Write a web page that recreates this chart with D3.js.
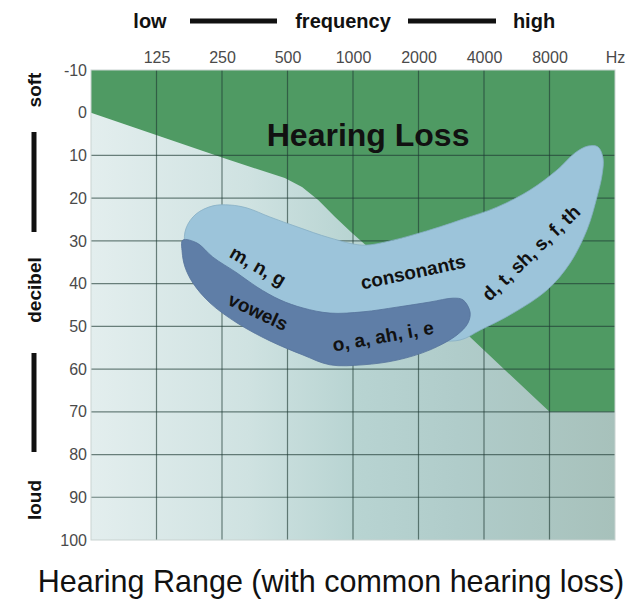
<!DOCTYPE html>
<html>
<head>
<meta charset="utf-8">
<script src="https://cdn.jsdelivr.net/npm/d3@7"></script>
<style>
  html, body { margin: 0; padding: 0; background: #fff; }
  svg { display: block; font-family: "Liberation Sans", Arial, Helvetica, sans-serif; }
</style>
</head>
<body>
<svg id="chart" width="631" height="603"></svg>
<script>
// ---------- data ----------
const freqTicks = [125, 250, 500, 1000, 2000, 4000, 8000, 16000];
const freqLabels = ["125", "250", "500", "1000", "2000", "4000", "8000", "Hz"];
const dbTicks = [-10, 0, 10, 20, 30, 40, 50, 60, 70, 80, 90, 100];
const dbGrid = [10, 20, 30, 40, 50, 60, 70, 80, 90];

// threshold of common hearing loss (Hz, dB)
const lossFreq = [62.5, 250, 486, 583, 692, 827, 987, 1170, 3450, 8000, 16000];
const lossDb   = [0, 10.5, 15.3, 17.4, 20.4, 24.4, 28.1, 31.4, 52.5, 70, 70];

// consonant speech region outline (Hz, dB)
const consFreq = [198, 169, 171, 190, 227, 272, 326, 415, 553, 784, 1112, 1479, 1887, 2512, 3202, 4588, 6508, 8666, 10478, 12025, 13363, 14096, 13950, 13225, 11898, 9937, 7792, 5439, 3834, 3104, 2032, 784, 336];
const consDb   = [38.0, 31.0, 27.0, 23.7, 21.8, 21.6, 22.3, 24.4, 26.7, 29.3, 31.0, 30.0, 28.6, 26.7, 24.9, 22.1, 18.1, 13.4, 9.4, 7.8, 8.0, 10.6, 14.6, 19.7, 27.4, 35.2, 41.5, 46.9, 50.9, 53.2, 53.2, 53.2, 46.2];

// vowel speech region outline (Hz, dB)
const vowFreq = [165, 192, 227, 293, 362, 462, 589, 784, 1112, 1593, 2260, 2882, 3202, 3450, 3377, 3006, 2260, 1593, 1112, 784, 589, 415, 293, 220, 184, 169, 164];
const vowDb   = [29.8, 30.5, 33.8, 37.5, 40.8, 43.8, 45.7, 46.9, 46.6, 45.5, 44.3, 43.4, 43.8, 46.6, 49.2, 52.0, 55.5, 57.9, 59.0, 59.0, 56.7, 53.4, 49.2, 44.5, 39.9, 36.1, 32.6];

// labels inside the chart
const labelText  = ["Hearing Loss", "m, n, g", "vowels", "consonants", "o, a, ah, i, e", "d, t, sh, s, f, th"];
const labelFreq  = [1173, 366, 366, 1887, 1374, 6580];
const labelDb    = [5.2, 35.9, 46.6, 37.3, 52.3, 32.8];
const labelAngle = [0, 30, 25, -12, -10, -44];

// ---------- layout ----------
const svg = d3.select("#chart");
const L = 91, R = 615, T = 70, B = 540;
const x = d3.scaleLog().base(2).domain([62.5, 16000]).range([L, R]);
const y = d3.scaleLinear().domain([-10, 100]).range([T, B]);

const defs = svg.append("defs");
const grad = defs.append("linearGradient").attr("id", "normal")
  .attr("x1", "0%").attr("x2", "100%").attr("y1", "0%").attr("y2", "0%");
[[0, "#e3eeee"], [0.3, "#cfe2e1"], [0.5, "#b8d4d2"], [0.7, "#b0ccca"], [1, "#a7c1bb"]]
  .forEach(([o, c]) => grad.append("stop").attr("offset", o).attr("stop-color", c));

// hearing loss area (green)
svg.append("rect").attr("x", L).attr("y", T).attr("width", R - L).attr("height", B - T)
  .attr("fill", "#4f9a63");

// normal hearing area
const lossPts = lossFreq.map((f, i) => [f, lossDb[i]]);
svg.append("path")
  .attr("d", d3.area().x(d => x(d[0])).y0(y(100)).y1(d => y(d[1]))(lossPts))
  .attr("fill", "url(#normal)");

// grid
const grid = svg.append("g").attr("stroke", "#1f3a33").attr("stroke-opacity", 0.62).attr("stroke-width", 1.2);
grid.selectAll("line.v").data(freqTicks.slice(0, -1)).join("line")
  .attr("x1", d => x(d)).attr("x2", d => x(d)).attr("y1", T).attr("y2", B);
grid.selectAll("line.h").data(dbGrid).join("line")
  .attr("x1", L).attr("x2", R).attr("y1", d => y(d)).attr("y2", d => y(d));

// speech banana
const shape = d3.line().x(d => x(d[0])).y(d => y(d[1])).curve(d3.curveCatmullRomClosed.alpha(0.5));
svg.append("path").attr("d", shape(consFreq.map((f, i) => [f, consDb[i]])))
  .attr("fill", "#9cc4da").attr("stroke", "#86aec4").attr("stroke-width", 0.8);
svg.append("path").attr("d", shape(vowFreq.map((f, i) => [f, vowDb[i]])))
  .attr("fill", "#5f7ea7").attr("stroke", "#55729a").attr("stroke-width", 0.8);

// border
svg.append("rect").attr("x", L).attr("y", T).attr("width", R - L).attr("height", B - T)
  .attr("fill", "none").attr("stroke", "#c9d3d1").attr("stroke-width", 1);

// axes
const xAxis = d3.axisTop(x).tickValues(freqTicks).tickFormat((d, i) => freqLabels[i]).tickSize(0).tickPadding(0);
const gx = svg.append("g").attr("transform", `translate(0,${63})`).call(xAxis);
gx.select(".domain").remove();
gx.selectAll("text").attr("font-size", 16).attr("fill", "#4a4a4a").attr("font-family", "Liberation Sans, Arial, sans-serif").attr("dy", 0);

const yAxis = d3.axisLeft(y).tickValues(dbTicks).tickFormat(d => String(d)).tickSize(0).tickPadding(0);
const gy = svg.append("g").attr("transform", `translate(${87},0)`).call(yAxis);
gy.select(".domain").remove();
gy.selectAll("text").attr("font-size", 16).attr("fill", "#4a4a4a").attr("font-family", "Liberation Sans, Arial, sans-serif");

// labels inside chart
labelText.forEach((t, i) => {
  const big = i === 0;
  svg.append("text")
    .attr("transform", `translate(${x(labelFreq[i])},${y(labelDb[i])}) rotate(${labelAngle[i]})`)
    .attr("text-anchor", "middle").attr("dominant-baseline", "central")
    .attr("font-size", big ? 32 : 19).attr("font-weight", "bold").attr("fill", "#111")
    .text(t);
});

// header
const head = svg.append("g").attr("font-size", 20).attr("font-weight", "bold").attr("fill", "#111");
head.append("text").attr("x", 150).attr("y", 28).attr("text-anchor", "middle").text("low");
head.append("text").attr("x", 343).attr("y", 28).attr("text-anchor", "middle").text("frequency");
head.append("text").attr("x", 534).attr("y", 28).attr("text-anchor", "middle").text("high");
svg.append("line").attr("x1", 190).attr("x2", 277).attr("y1", 21).attr("y2", 21).attr("stroke", "#111").attr("stroke-width", 5);
svg.append("line").attr("x1", 408).attr("x2", 496).attr("y1", 21).attr("y2", 21).attr("stroke", "#111").attr("stroke-width", 5);

// left side
const side = svg.append("g").attr("font-size", 19).attr("font-weight", "bold").attr("fill", "#111");
[["soft", 90], ["decibel", 290], ["loud", 500]].forEach(([t, cy]) => {
  side.append("text").attr("transform", `translate(34,${cy}) rotate(-90)`)
    .attr("text-anchor", "middle").attr("dominant-baseline", "central").text(t);
});
svg.append("line").attr("x1", 34).attr("x2", 34).attr("y1", 132).attr("y2", 232).attr("stroke", "#111").attr("stroke-width", 5);
svg.append("line").attr("x1", 34).attr("x2", 34).attr("y1", 353).attr("y2", 452).attr("stroke", "#111").attr("stroke-width", 5);

// title
svg.append("text").attr("x", 331).attr("y", 592).attr("text-anchor", "middle")
  .attr("font-size", 30.5).attr("fill", "#111").text("Hearing Range (with common hearing loss)");
</script>
</body>
</html>
